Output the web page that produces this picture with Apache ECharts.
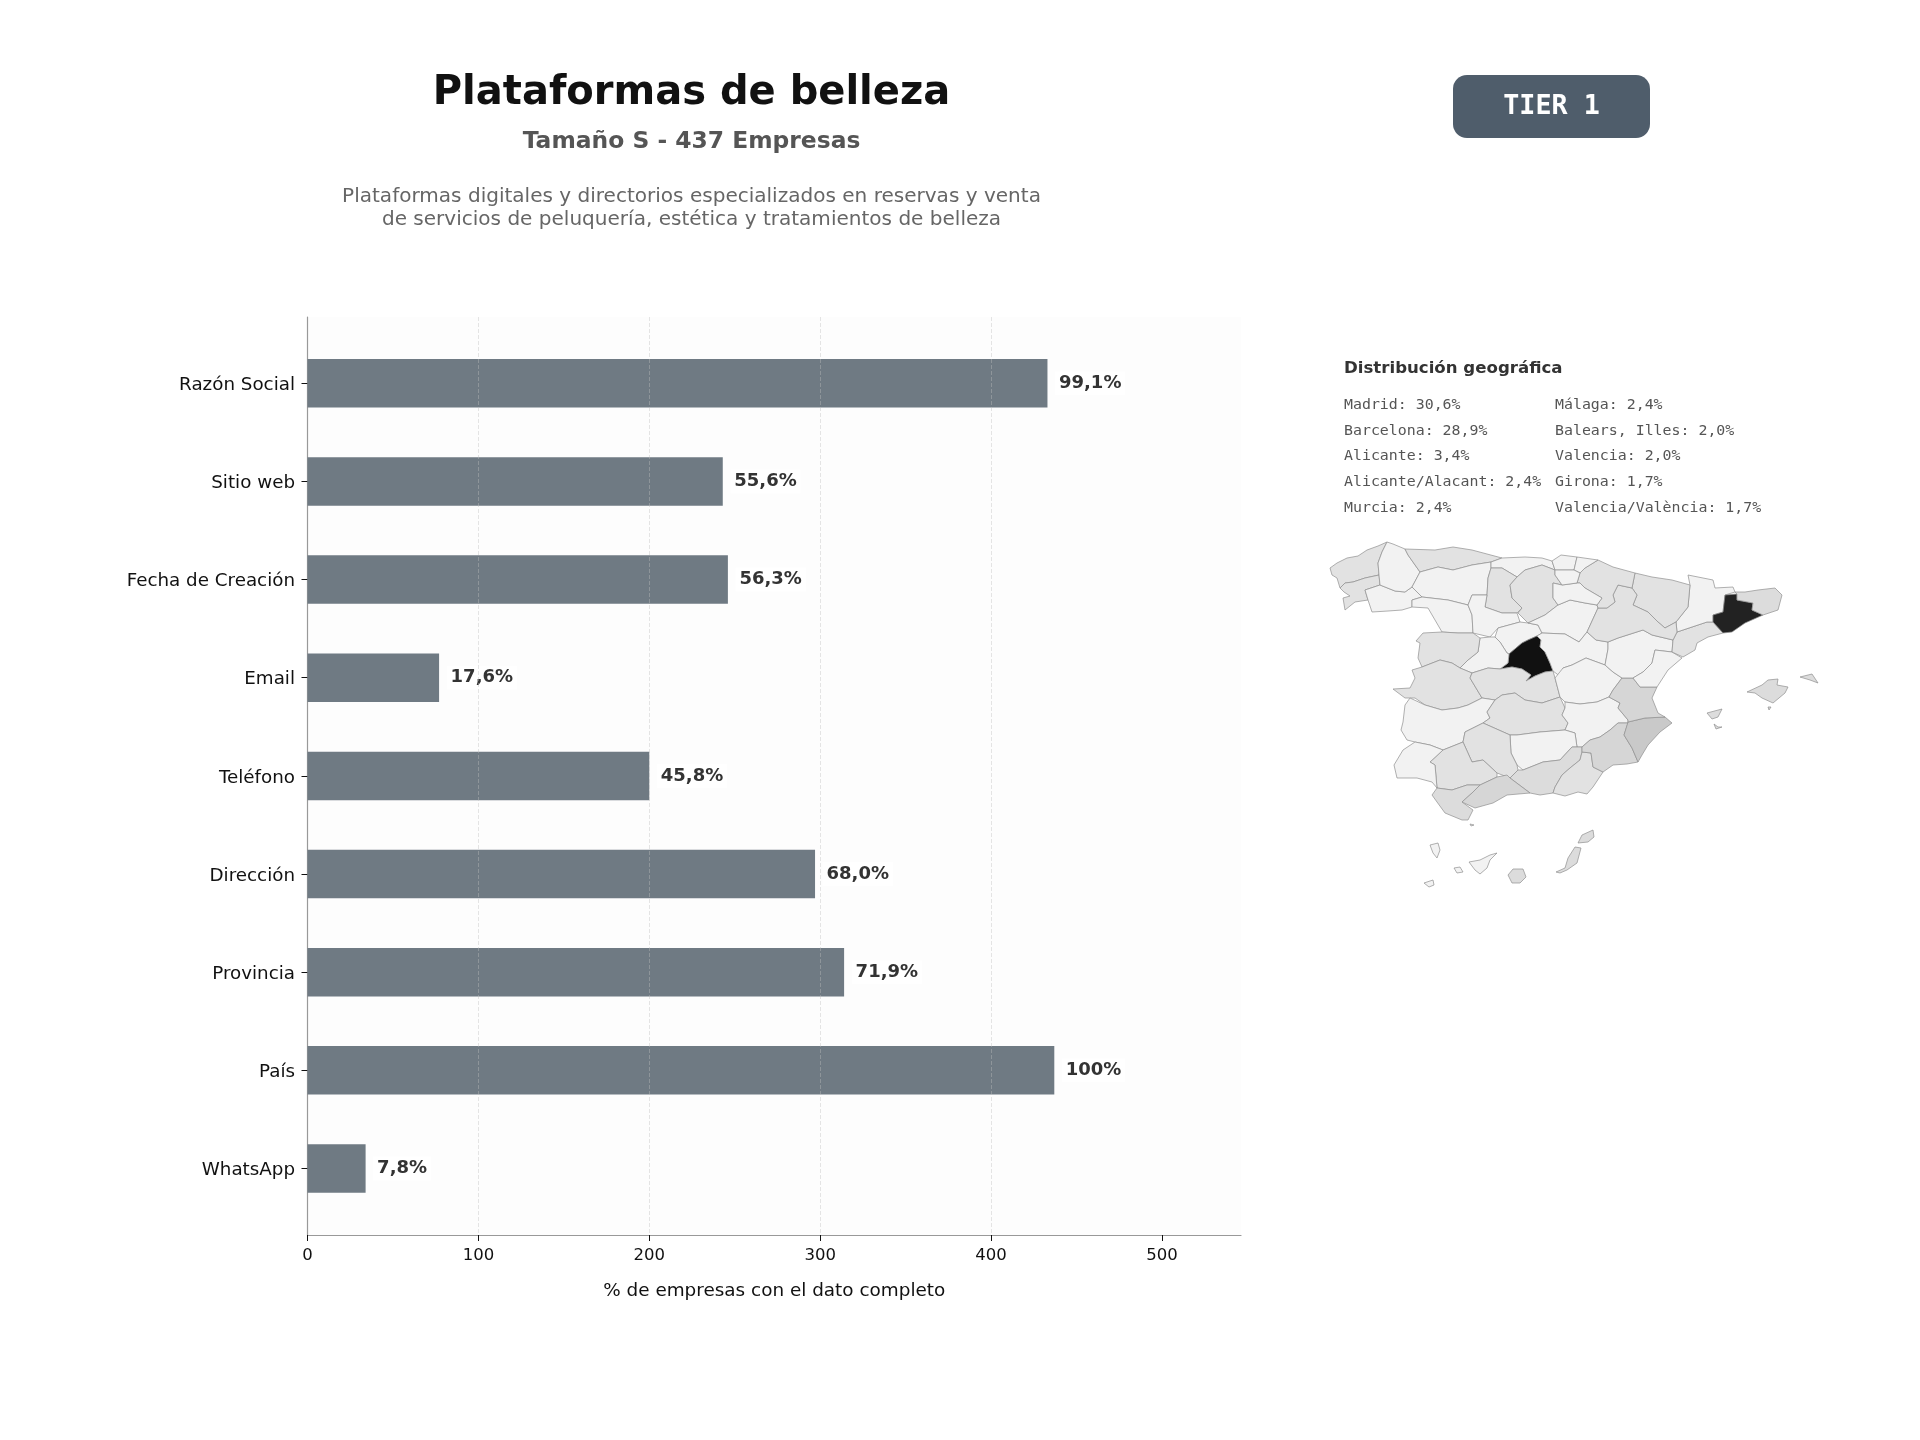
<!DOCTYPE html>
<html>
<head>
<meta charset="utf-8">
<title>Plataformas de belleza</title>
<style>
html, body { margin: 0; padding: 0; background: #fff; }
#main { width: 1920px; height: 1440px; }
</style>
<script src="https://cdn.jsdelivr.net/npm/echarts@6/dist/echarts.min.js"></script>
</head>
<body>
<div id="main"></div>
<script>
// barras
var categories = ['Razón Social', 'Sitio web', 'Fecha de Creación', 'Email', 'Teléfono', 'Dirección', 'Provincia', 'País', 'WhatsApp'];
var counts = [433, 243, 246, 77, 200, 297, 314, 437, 34];
var percentLabels = ['99,1%', '55,6%', '56,3%', '17,6%', '45,8%', '68,0%', '71,9%', '100%', '7,8%'];
var xTicks = [0, 100, 200, 300, 400, 500];
var xMax = 546.25;

// lista de provincias del texto
var legendNames = ['Madrid', 'Barcelona', 'Alicante', 'Alicante/Alacant', 'Murcia', 'Málaga', 'Balears, Illes', 'Valencia', 'Girona', 'Valencia/València'];
var legendShares = [30.6, 28.9, 3.4, 2.4, 2.4, 2.4, 2.0, 2.0, 1.7, 1.7];

// peso de cada provincia en el mapa (las pequeñas, estimadas por el tono)
var provinceNames = ['Madrid', 'Barcelona', 'Alicante', 'Murcia', 'Málaga', 'Valencia', 'Baleares', 'Girona', 'Cádiz', 'Granada', 'Las Palmas',
    'Almería', 'Córdoba', 'Sevilla', 'Ciudad Real', 'Toledo', 'Cáceres', 'Salamanca', 'Burgos', 'Palencia', 'Asturias', 'A Coruña', 'Pontevedra', 'Navarra', 'Huesca', 'Zaragoza', 'Tarragona',
    'Lugo', 'Ourense', 'León', 'Zamora', 'Valladolid', 'Segovia', 'Soria', 'Ávila', 'Guadalajara', 'Cuenca', 'Albacete', 'Jaén', 'Badajoz', 'Huelva', 'Teruel', 'Castellón', 'Lleida', 'La Rioja', 'Cantabria', 'Bizkaia', 'Gipuzkoa', 'Álava', 'Tenerife', 'Ceuta'];
var provinceShares = [30.6, 28.9, 3.4, 2.4, 2.4, 2.0, 1.9, 1.7, 1.4, 1.2, 1.0,
    0.7, 0.7, 0.7, 0.7, 0.7, 0.7, 0.7, 0.7, 0.7, 0.7, 0.7, 0.7, 0.7, 0.7, 0.7, 0.7,
    0.2, 0.2, 0.2, 0.2, 0.2, 0.2, 0.2, 0.2, 0.2, 0.2, 0.2, 0.2, 0.2, 0.2, 0.2, 0.2, 0.2, 0.2, 0.2, 0.2, 0.2, 0.2, 0.2, 0.2];

// contornos del mapa, calcados de la imagen
var provinceRings = {
    'A Coruña': [[[1330,568],[1337,563],[1347,558],[1358,556],[1367,550],[1378,546],[1387,542],[1382,552],[1378,563],[1379,575],[1365,578],[1353,582],[1345,583],[1340,588],[1337,578],[1332,575]]],
    'Pontevedra': [[[1340,588],[1345,583],[1353,582],[1365,578],[1379,575],[1380,585],[1365,590],[1368,600],[1355,602],[1345,610],[1343,598],[1350,596],[1344,592]]],
    'Ourense': [[[1365,590],[1380,585],[1395,591],[1405,592],[1412,587],[1422,597],[1412,600],[1412,607],[1402,610],[1388,611],[1372,612],[1368,600]]],
    'Lugo': [[[1387,542],[1393,544],[1405,549],[1408,555],[1420,572],[1412,587],[1405,592],[1395,591],[1380,585],[1379,575],[1378,563],[1382,552]]],
    'Asturias': [[[1405,549],[1435,550],[1453,547],[1472,550],[1502,558],[1491,562],[1472,565],[1453,570],[1438,567],[1420,572],[1408,555]]],
    'León': [[[1420,572],[1438,567],[1453,570],[1472,565],[1491,562],[1491,568],[1488,578],[1487,595],[1472,595],[1468,605],[1448,600],[1422,597],[1412,587]]],
    'Zamora': [[[1412,600],[1422,597],[1448,600],[1468,605],[1472,615],[1473,633],[1458,633],[1442,632],[1435,620],[1428,608],[1412,607]]],
    'Cantabria': [[[1491,562],[1502,558],[1525,557],[1542,558],[1552,561],[1555,570],[1542,565],[1525,570],[1517,577],[1502,568],[1491,568]]],
    'Palencia': [[[1491,568],[1502,568],[1517,577],[1510,585],[1512,598],[1522,608],[1517,613],[1502,613],[1485,607],[1487,595],[1488,578]]],
    'Burgos': [[[1517,577],[1525,570],[1542,565],[1555,570],[1555,575],[1562,585],[1553,583],[1553,598],[1558,605],[1545,615],[1528,623],[1518,613],[1522,608],[1512,598],[1510,585]]],
    'Valladolid': [[[1472,595],[1487,595],[1485,607],[1502,613],[1517,613],[1520,622],[1498,628],[1490,637],[1473,633],[1472,615],[1468,605]]],
    'Segovia': [[[1498,628],[1520,622],[1528,623],[1538,625],[1542,633],[1537,636],[1528,640],[1522,643],[1509,654],[1507,653],[1500,642],[1495,637]]],
    'Soria': [[[1545,615],[1558,605],[1570,600],[1585,603],[1597,605],[1598,608],[1587,632],[1579,642],[1565,634],[1542,633],[1538,625],[1528,623]]],
    'Madrid': [[[1537,636],[1541,640],[1540,647],[1545,652],[1550,663],[1553,671],[1545,672],[1535,676],[1526,681],[1531,675],[1522,669],[1512,667],[1500,669],[1508,663],[1509,654],[1522,643],[1528,640]]],
    'Guadalajara': [[[1542,633],[1565,634],[1579,642],[1587,632],[1596,640],[1608,642],[1608,649],[1605,665],[1586,658],[1572,665],[1563,668],[1561,677],[1553,671],[1550,663],[1545,652],[1540,647],[1541,640],[1537,636]]],
    'Ávila': [[[1495,637],[1500,642],[1507,653],[1509,654],[1508,663],[1500,669],[1488,668],[1472,673],[1460,668],[1468,660],[1478,652],[1480,638],[1490,637]]],
    'Salamanca': [[[1442,632],[1458,633],[1473,633],[1480,638],[1478,652],[1468,660],[1460,668],[1452,663],[1440,660],[1422,667],[1418,658],[1420,643],[1416,641],[1423,633]]],
    'Cáceres': [[[1422,667],[1440,660],[1452,663],[1460,668],[1472,673],[1470,678],[1482,698],[1468,705],[1458,708],[1442,710],[1425,705],[1415,698],[1405,698],[1393,689],[1410,688],[1415,678],[1412,670]]],
    'Toledo': [[[1472,673],[1488,668],[1500,669],[1512,667],[1522,669],[1531,675],[1526,681],[1535,676],[1545,672],[1553,671],[1555,678],[1560,697],[1542,703],[1525,700],[1515,693],[1502,695],[1495,700],[1482,698],[1470,678]]],
    'Badajoz': [[[1405,705],[1410,698],[1425,705],[1442,710],[1458,708],[1468,705],[1482,698],[1495,700],[1487,712],[1490,718],[1483,723],[1465,732],[1463,742],[1443,750],[1430,745],[1415,742],[1407,740],[1401,730],[1403,722]]],
    'Ciudad Real': [[[1495,700],[1502,695],[1515,693],[1525,700],[1542,703],[1560,697],[1565,708],[1562,715],[1568,723],[1565,730],[1540,732],[1517,735],[1510,735],[1483,723],[1490,718],[1487,712]]],
    'Cuenca': [[[1555,678],[1563,668],[1572,665],[1586,658],[1605,665],[1613,672],[1622,678],[1613,690],[1609,697],[1597,702],[1580,704],[1565,702],[1560,697]]],
    'Albacete': [[[1565,702],[1580,704],[1597,702],[1609,697],[1620,703],[1618,708],[1628,720],[1628,723],[1618,723],[1610,730],[1600,737],[1590,740],[1582,747],[1577,747],[1575,733],[1565,730],[1568,723],[1562,715],[1565,708]]],
    'Jaén': [[[1510,735],[1517,735],[1540,732],[1565,730],[1575,733],[1577,747],[1572,747],[1560,760],[1543,762],[1523,770],[1517,765],[1511,753]]],
    'Granada': [[[1523,770],[1543,762],[1560,760],[1572,747],[1582,747],[1582,752],[1580,760],[1570,768],[1562,775],[1555,787],[1553,793],[1540,795],[1530,793],[1510,778],[1518,770]]],
    'Almería': [[[1582,752],[1591,753],[1593,767],[1603,772],[1593,787],[1587,794],[1578,792],[1565,796],[1553,793],[1555,787],[1562,775],[1570,768],[1580,760]]],
    'Murcia': [[[1582,747],[1590,740],[1600,737],[1610,730],[1618,723],[1628,723],[1624,735],[1632,748],[1638,762],[1627,764],[1613,765],[1603,772],[1593,767],[1591,753],[1582,752]]],
    'Alicante': [[[1628,722],[1645,718],[1665,717],[1672,723],[1660,732],[1648,745],[1642,755],[1638,762],[1632,748],[1624,735]]],
    'Valencia': [[[1622,678],[1633,678],[1640,687],[1657,687],[1652,698],[1658,713],[1665,717],[1645,718],[1628,722],[1628,720],[1618,708],[1620,703],[1609,697],[1613,690]]],
    'Teruel': [[[1608,642],[1618,638],[1643,630],[1652,635],[1673,640],[1672,652],[1655,650],[1652,663],[1643,672],[1633,678],[1622,678],[1613,672],[1605,665],[1608,649]]],
    'Castellón': [[[1655,650],[1672,652],[1682,658],[1668,670],[1657,687],[1640,687],[1633,678],[1643,672],[1652,663]]],
    'Tarragona': [[[1673,640],[1677,632],[1707,622],[1713,622],[1723,633],[1708,637],[1697,643],[1695,650],[1683,657],[1682,658],[1672,652]]],
    'Lleida': [[[1688,575],[1713,580],[1715,588],[1733,587],[1735,592],[1725,595],[1723,612],[1713,615],[1713,622],[1707,622],[1677,632],[1676,622],[1688,607],[1690,585]]],
    'Barcelona': [[[1725,595],[1737,594],[1737,600],[1753,603],[1752,610],[1763,615],[1745,623],[1732,632],[1723,633],[1713,622],[1713,615],[1723,612]]],
    'Girona': [[[1735,592],[1745,592],[1758,590],[1775,588],[1782,595],[1778,610],[1763,615],[1752,610],[1753,603],[1737,600],[1737,594]]],
    'Huesca': [[[1635,573],[1652,577],[1672,580],[1690,585],[1688,607],[1676,622],[1665,628],[1658,622],[1648,612],[1633,605],[1637,595],[1632,588]]],
    'Zaragoza': [[[1632,588],[1637,595],[1633,605],[1648,612],[1658,622],[1665,628],[1676,622],[1677,632],[1673,640],[1652,635],[1643,630],[1618,638],[1608,642],[1596,640],[1587,632],[1598,608],[1607,608],[1615,602],[1613,595],[1618,585]]],
    'Navarra': [[[1585,568],[1598,560],[1613,567],[1635,573],[1632,588],[1618,585],[1613,595],[1615,602],[1607,608],[1598,608],[1597,605],[1602,598],[1585,588],[1580,583],[1577,583],[1580,573]]],
    'La Rioja': [[[1553,583],[1562,585],[1577,583],[1580,583],[1585,588],[1602,598],[1597,605],[1585,603],[1570,600],[1558,605],[1553,598]]],
    'Bizkaia': [[[1552,561],[1561,555],[1577,557],[1574,570],[1555,570]]],
    'Gipuzkoa': [[[1574,570],[1577,557],[1598,560],[1585,568],[1580,573]]],
    'Álava': [[[1555,570],[1574,570],[1580,573],[1577,583],[1562,585],[1555,575]]],
    'Córdoba': [[[1465,732],[1483,723],[1510,735],[1511,753],[1517,765],[1518,770],[1510,778],[1497,773],[1483,760],[1472,762],[1463,742]]],
    'Sevilla': [[[1443,750],[1463,742],[1472,762],[1483,760],[1497,773],[1497,777],[1480,785],[1467,785],[1452,790],[1437,788],[1435,765],[1430,762]]],
    'Huelva': [[[1415,742],[1430,745],[1443,750],[1430,762],[1435,765],[1437,788],[1432,782],[1417,778],[1397,778],[1394,765],[1403,750]]],
    'Cádiz': [[[1437,788],[1452,790],[1467,785],[1480,785],[1472,793],[1462,802],[1473,810],[1468,820],[1462,820],[1445,813],[1437,802],[1432,795]]],
    'Málaga': [[[1462,802],[1472,793],[1480,785],[1497,777],[1507,775],[1510,778],[1530,793],[1507,795],[1493,803],[1475,808]]],
    'Baleares': [
        [[1747,692],[1762,685],[1768,680],[1778,679],[1777,685],[1788,687],[1785,693],[1773,703],[1762,698],[1755,693]],
        [[1800,677],[1812,674],[1818,683],[1810,680]],
        [[1707,713],[1722,709],[1718,717],[1712,719]],
        [[1714,724],[1718,727],[1722,727],[1716,729]],
        [[1768,707],[1771,707],[1769,710]]
    ],
    'Tenerife': [
        [[1430,845],[1438,843],[1440,850],[1437,858],[1433,853]],
        [[1424,883],[1433,880],[1434,885],[1429,887]],
        [[1454,868],[1460,867],[1463,872],[1457,873]],
        [[1469,862],[1480,860],[1490,855],[1497,853],[1490,860],[1487,868],[1480,874],[1475,870]]
    ],
    'Las Palmas': [
        [[1508,875],[1513,869],[1523,869],[1526,877],[1520,883],[1512,883]],
        [[1556,872],[1565,868],[1568,858],[1575,847],[1581,848],[1577,863],[1567,870],[1560,873]],
        [[1578,843],[1582,835],[1593,830],[1594,837],[1588,842]]
    ],
    'Ceuta': [[[1470,824],[1474,825],[1471,826]]]
};

function fmtShare(v) {
    return v.toFixed(1).replace('.', ',') + '%';
}

// geojson para registerMap, y invertida porque los contornos van en pixeles de pantalla
var features = [], minX = 1e9, maxX = -1e9, minY = 1e9, maxY = -1e9;
for (var name in provinceRings) {
    var polys = provinceRings[name].map(function (ring) {
        var r = ring.map(function (p) {
            minX = Math.min(minX, p[0]); maxX = Math.max(maxX, p[0]);
            minY = Math.min(minY, p[1]); maxY = Math.max(maxY, p[1]);
            return [p[0], -p[1]];
        });
        r.push(r[0]);
        return [r];
    });
    features.push({ type: 'Feature', properties: { name: name }, geometry: { type: 'MultiPolygon', coordinates: polys } });
}
echarts.registerMap('espana', { type: 'FeatureCollection', features: features });

var mapData = provinceNames.map(function (n, i) {
    return { name: n, value: provinceShares[i] };
});

var FONT = '"DejaVu Sans"';
var MONO = '"DejaVu Sans Mono"';
var plotLeft = 307.5, plotRight = 1241, plotTop = 317, plotBottom = 1235;
var bandTop = 334.2, bandBottom = 1217.6;

function headText(str, y, size, weight, color) {
    return { type: 'text', x: 691.5, y: y, style: { text: str, font: weight + ' ' + size + 'px ' + FONT, fill: color, textAlign: 'center', textVerticalAlign: 'middle' } };
}

var graphics = [
    headText('Plataformas de belleza', 93.5, 40, 'bold', '#111111'),
    headText('Tamaño S - 437 Empresas', 142, 23.4, 'bold', '#555555'),
    headText('Plataformas digitales y directorios especializados en reservas y venta', 197, 20.05, 'normal', '#666666'),
    headText('de servicios de peluquería, estética y tratamientos de belleza', 219.5, 20.05, 'normal', '#666666'),
    { type: 'rect', shape: { x: 1453, y: 75, width: 197, height: 63, r: 14 }, style: { fill: '#4f5d6b' } },
    { type: 'text', x: 1551.5, y: 107, style: { text: 'TIER 1', font: 'bold 26.7px ' + MONO, fill: '#ffffff', textAlign: 'center', textVerticalAlign: 'middle' } },
    { type: 'text', x: 1344, y: 369, style: { text: 'Distribución geográfica', font: 'bold 16.6px ' + FONT, fill: '#333333', textVerticalAlign: 'middle' } }
];
// dos columnas de cinco
for (var k = 0; k < legendNames.length; k++) {
    graphics.push({
        type: 'text',
        x: k < 5 ? 1344 : 1555,
        y: 405 + (k % 5) * 25.8,
        style: { text: legendNames[k] + ': ' + fmtShare(legendShares[k]), font: '14.9px ' + MONO, fill: '#555555', textVerticalAlign: 'middle' }
    });
}

var myChart = echarts.init(document.getElementById('main'), null, { renderer: 'canvas', width: 1920, height: 1440 });
var option = {
    animation: false,
    backgroundColor: '#ffffff',
    grid: [
        // barras, una banda por categoria
        { left: plotLeft, width: plotRight - plotLeft, top: bandTop, height: bandBottom - bandTop },
        // marco con ejes y fondo, algo mas alto que las bandas
        { left: plotLeft, width: plotRight - plotLeft, top: plotTop, height: plotBottom - plotTop, show: true, backgroundColor: '#fdfdfd', borderWidth: 0, z: 0 }
    ],
    xAxis: [
        { gridIndex: 0, type: 'value', min: 0, max: xMax, show: false },
        {
            gridIndex: 1, type: 'value', min: 0, max: xMax, z: 3,
            name: '% de empresas con el dato completo', nameLocation: 'middle', nameGap: 47,
            nameTextStyle: { fontFamily: FONT, fontSize: 18.4, color: '#111111' },
            axisLine: { show: true, lineStyle: { color: '#999999', width: 1.2 } },
            axisTick: { show: true, length: 6, customValues: xTicks, lineStyle: { color: '#111111', width: 1 } },
            axisLabel: { customValues: xTicks, margin: 12.5, fontFamily: FONT, fontSize: 16.5, color: '#111111' },
            splitLine: { show: true, showMinLine: false, showMaxLine: false, lineStyle: { color: 'rgba(190,190,190,0.4)', type: 'dashed', width: 1 } }
        }
    ],
    yAxis: [
        {
            gridIndex: 0, type: 'category', inverse: true, data: categories,
            axisLine: { show: false },
            axisTick: { show: true, alignWithLabel: true, length: 6, lineStyle: { color: '#111111', width: 1 } },
            axisLabel: {
                margin: 12.5, formatter: '{a|{value}}',
                rich: { a: { padding: [4, 0, 0, 0], fontFamily: FONT, fontSize: 18.3, color: '#111111' } }
            }
        },
        {
            gridIndex: 1, type: 'value', min: 0, max: 1,
            axisLine: { show: true, lineStyle: { color: '#999999', width: 1.2 } },
            axisTick: { show: false }, axisLabel: { show: false }, splitLine: { show: false }
        }
    ],
    visualMap: {
        type: 'piecewise', show: false, seriesIndex: 1,
        pieces: [
            { gte: 30, color: '#111111' },
            { gte: 25, lt: 30, color: '#222222' },
            { gte: 3, lt: 25, color: '#c9c9c9' },
            { gte: 2, lt: 3, color: '#d6d6d6' },
            { gte: 1, lt: 2, color: '#dcdcdc' },
            { gte: 0.5, lt: 1, color: '#e2e2e2' },
            { lt: 0.5, color: '#f2f2f2' }
        ]
    },
    series: [
        {
            type: 'bar', xAxisIndex: 0, yAxisIndex: 0, data: counts, barWidth: 48.5, z: 2, silent: true,
            itemStyle: { color: '#6f7a83' },
            label: {
                show: true, position: 'right', distance: 7.5,
                formatter: function (p) { return percentLabels[p.dataIndex]; },
                fontFamily: FONT, fontWeight: 'bold', fontSize: 18, color: '#333333',
                backgroundColor: 'rgba(255,255,255,0.8)', padding: [3, 4]
            }
        },
        {
            type: 'map', map: 'espana', silent: true, aspectScale: 1, roam: false,
            left: minX, top: minY, width: maxX - minX, height: maxY - minY,
            label: { show: false },
            itemStyle: { borderColor: '#8f8f8f', borderWidth: 0.7, areaColor: '#f2f2f2' },
            data: mapData
        }
    ],
    graphic: graphics
};
myChart.setOption(option);
</script>
</body>
</html>
